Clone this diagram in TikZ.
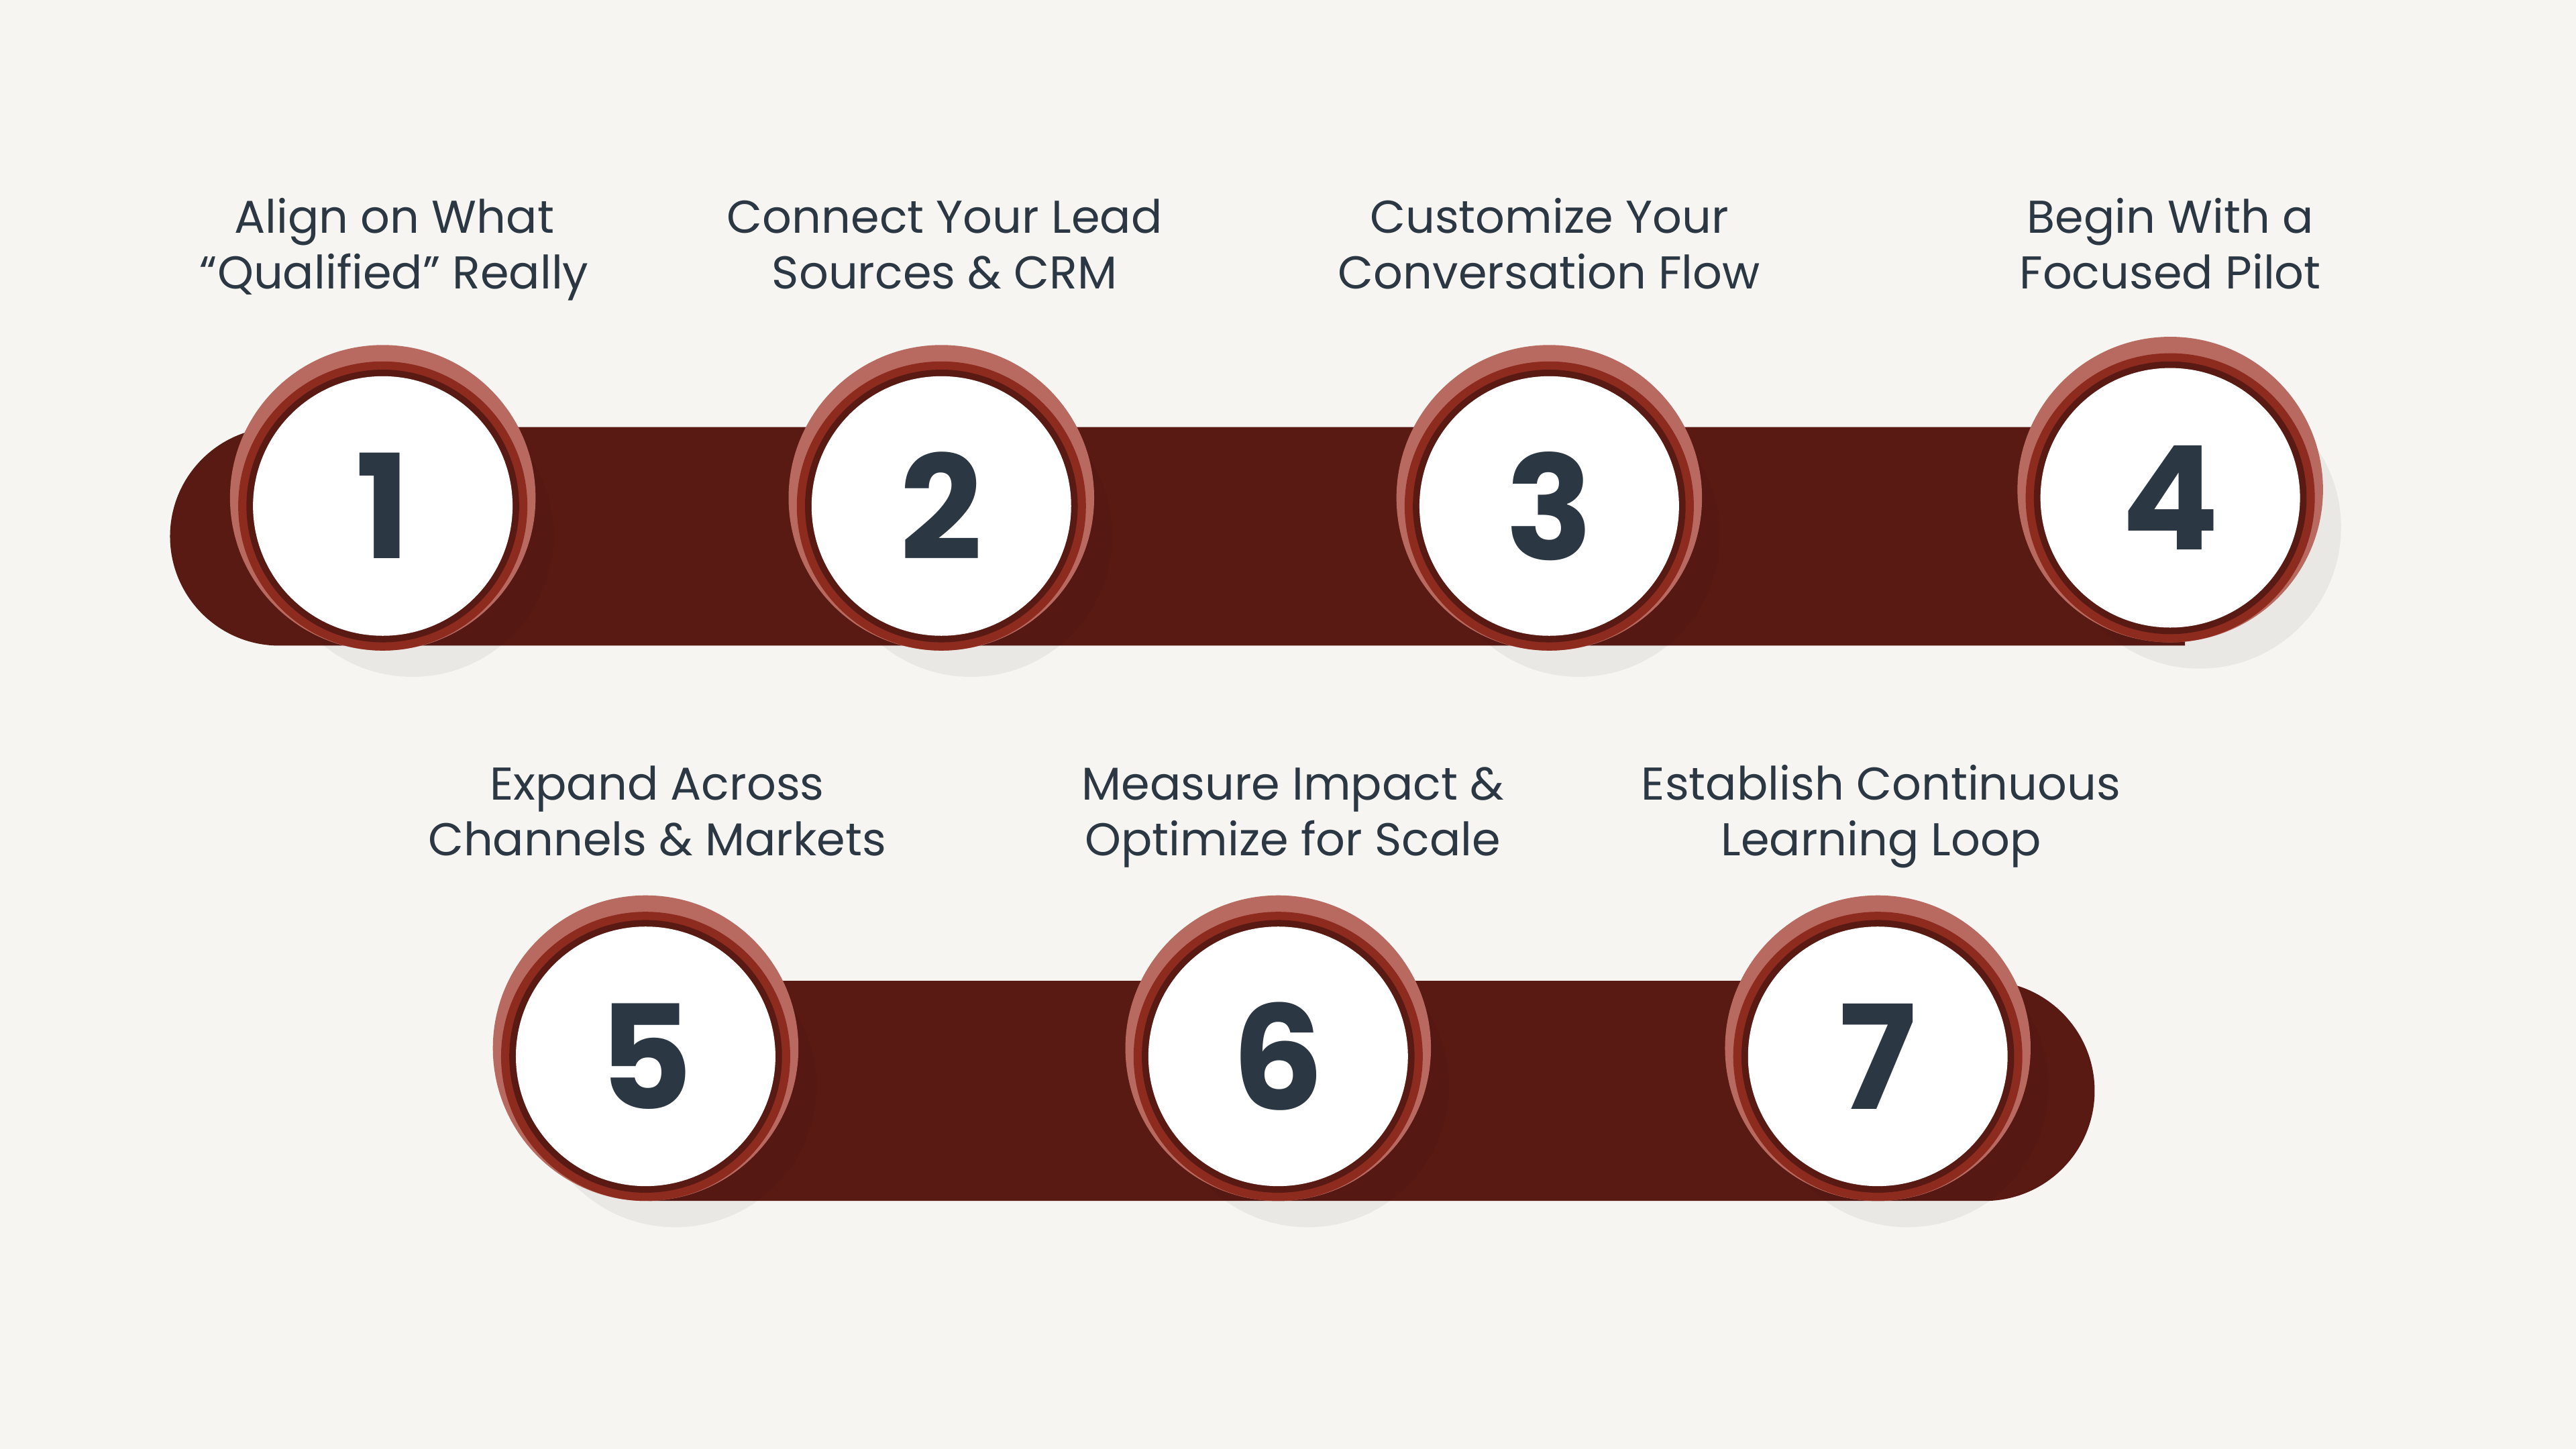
\documentclass[tikz,border=0pt]{standalone}
\usepackage{fontspec}
\setmainfont{Poppins}
\usetikzlibrary{calc}
\definecolor{bg}{HTML}{F7F5F2}
\definecolor{bar}{HTML}{5A1A14}
\definecolor{ringA}{HTML}{B86A60}
\definecolor{ringB}{HTML}{8E2B1F}
\definecolor{txt}{HTML}{2B3742}
\tikzset{
  lbl/.style={align=center,text=txt,font=\fontsize{14}{17}\selectfont,anchor=center,inner sep=0pt},
  num/.style={text=txt,font=\bfseries\fontsize{44}{44}\selectfont},
}
\newcommand{\stepcirc}[3]{%
  \fill[black,opacity=0.05] ($(#1)+(18,18)$) circle (86);
  \fill[ringA] ($(#1)+(0,-5)$) circle (93);
  \fill[ringB] (#1) circle (88);
  \fill[bar] (#1) circle (83);
  \fill[white] (#1) circle (79);
  \node[num] (#2) at (#1) {#3};
}
\begin{document}
\begin{tikzpicture}[x=0.5pt,y=-0.5pt]
\useasboundingbox (0,0) rectangle (1568,882);
\fill[bg] (0,0) rectangle (1568,882);
% bars
\fill[bar] (170,260) -- (1330,260) -- (1330,393) -- (170,393) arc (90:270:66.5) -- cycle;
\fill[bar] (395,597) -- (1208,597) arc (-90:90:67) -- (395,731) -- cycle;
% circles
\coordinate (c1) at (233,308);
\coordinate (c2) at (573,308);
\coordinate (c3) at (943,308);
\coordinate (c4) at (1321,303);
\coordinate (c5) at (393,643);
\coordinate (c6) at (778,643);
\coordinate (c7) at (1143,643);
\stepcirc{c1}{n1}{1}
\stepcirc{c2}{n2}{2}
\stepcirc{c3}{n3}{3}
\stepcirc{c4}{n4}{4}
\stepcirc{c5}{n5}{5}
\stepcirc{c6}{n6}{6}
\stepcirc{c7}{n7}{7}
% labels
\node[lbl] (l1) at (240,152) {Align on What\strut\\“Qualified” Really\strut};
\node[lbl] (l2) at (575,152) {Connect Your Lead\strut\\Sources \& CRM\strut};
\node[lbl] (l3) at (943,152) {Customize Your\strut\\Conversation Flow\strut};
\node[lbl] (l4) at (1321,152) {Begin With a\strut\\Focused Pilot\strut};
\node[lbl] (l5) at (400,497) {Expand Across\strut\\Channels \& Markets\strut};
\node[lbl] (l6) at (787,497) {Measure Impact \&\strut\\Optimize for Scale\strut};
\node[lbl] (l7) at (1145,497) {Establish Continuous\strut\\Learning Loop\strut};
\end{tikzpicture}
\end{document}
